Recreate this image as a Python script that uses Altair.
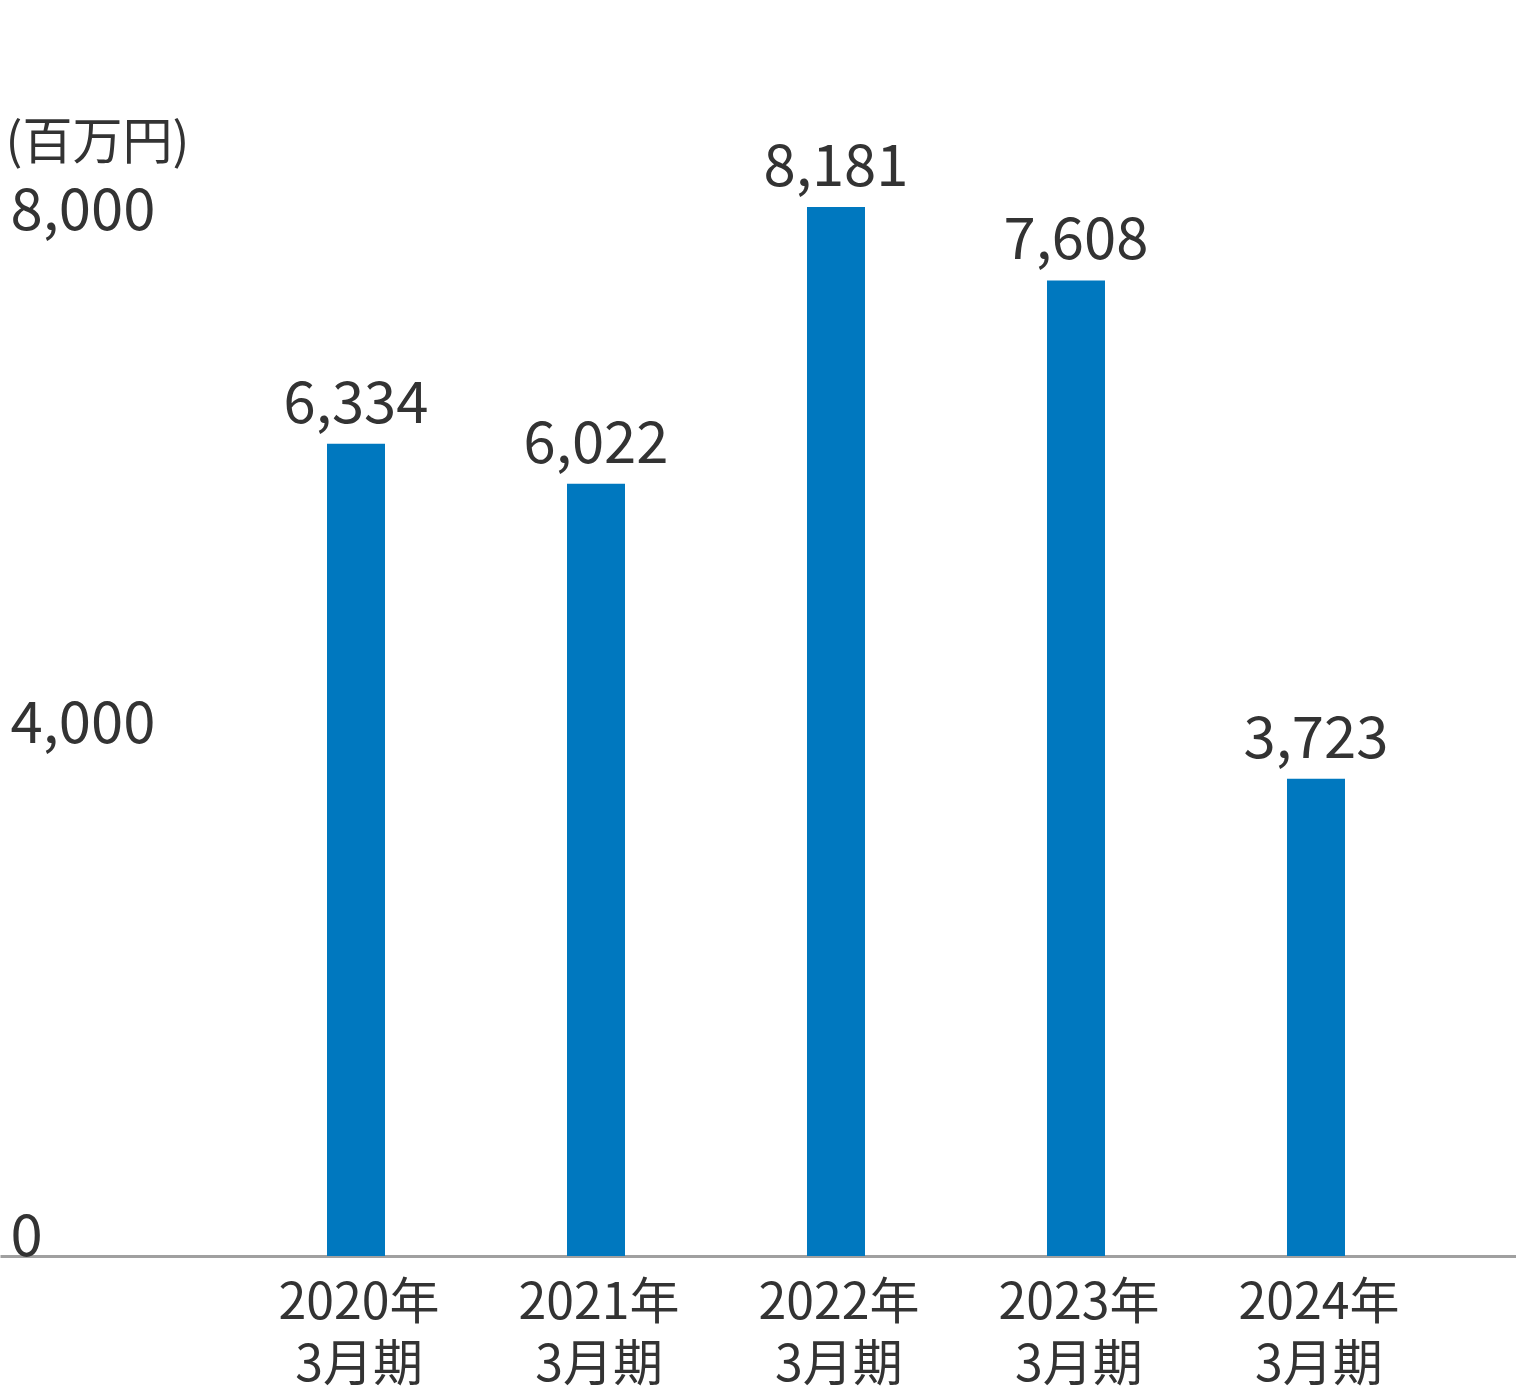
import altair as alt
import pandas as pd

categories = ["2020年 3月期", "2021年 3月期", "2022年 3月期", "2023年 3月期", "2024年 3月期"]
values = [6334, 6022, 8181, 7608, 3723]
y_ticks = [0, 4000, 8000]
unit_label = "(百万円)"

df = pd.DataFrame({"period": categories, "value": values})

FONT = "Noto Sans CJK JP"
TEXT = "#333333"
BAR = "#0078BF"

x = alt.X(
    "period:N",
    sort=categories,
    scale=alt.Scale(paddingInner=0.6833, paddingOuter=1, align=0.6625),
    axis=alt.Axis(
        title=None,
        labelExpr="split(datum.value, ' ')",
        labelAngle=0,
        labelFont=FONT,
        labelFontSize=50,
        labelColor=TEXT,
        labelLineHeight=62,
        labelPadding=22,
        labelOffset=3,
        ticks=False,
        domainColor="#a0a0a0",
        domainWidth=3,
        grid=False,
    ),
)

y = alt.Y(
    "value:Q",
    scale=alt.Scale(domain=[0, 9000], nice=False),
    axis=alt.Axis(
        values=y_ticks,
        format=",.0f",
        title=unit_label,
        titleAngle=0,
        titleX=5,
        titleY=56,
        titleAlign="left",
        titleBaseline="alphabetic",
        titleFont=FONT,
        titleFontSize=50,
        titleFontWeight="normal",
        titleColor=TEXT,
        labelAlign="left",
        labelBaseline="alphabetic",
        labelPadding=-10,
        labelOffset=-1,
        labelFont=FONT,
        labelFontSize=58,
        labelColor=TEXT,
        ticks=False,
        domain=False,
        grid=False,
    ),
)

bars = alt.Chart(df).mark_bar(color=BAR, width=58).encode(x=x, y=y)
labels = alt.Chart(df).mark_text(
    font=FONT, fontSize=58, color=TEXT, baseline="alphabetic", dy=-21
).encode(
    x=alt.X("period:N", sort=categories),
    y="value:Q",
    text=alt.Text("value:Q", format=","),
)

chart = (
    alt.layer(bars, labels)
    .properties(
        width=1516,
        height=1154,
        background="white",
        autosize=alt.AutoSizeParams(type="none"),
        padding={"left": 0, "top": 102, "right": 0, "bottom": 134},
    )
    .configure_view(strokeWidth=0, stroke="transparent")
)

chart.save("out.html", embed_options={"renderer": "svg", "actions": False})
